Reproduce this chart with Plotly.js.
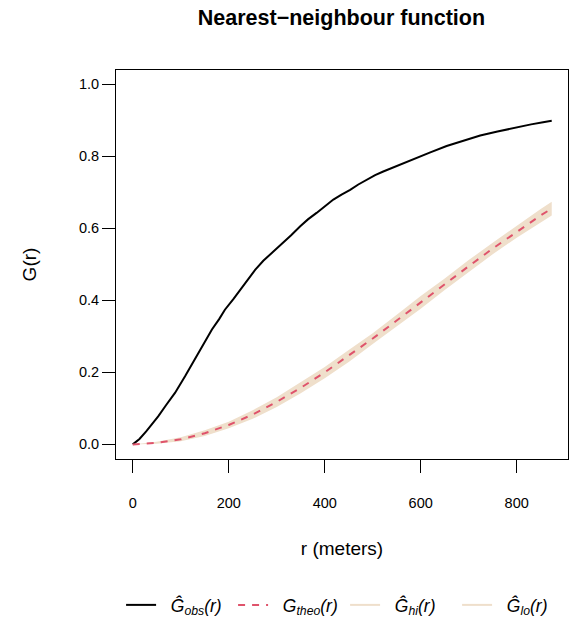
<!DOCTYPE html>
<html><head><meta charset="utf-8">
<script src="https://cdn.plot.ly/plotly-3.0.1.min.js"></script>
<style>html,body{margin:0;padding:0;background:#fff}</style>
</head><body><div id="chart" style="width:579px;height:619px"></div>
<script>
// Observed nearest-neighbour function
const rObs = [0, 14, 28, 40, 53, 70, 88, 109, 123, 133, 150, 165, 180, 192, 210, 220, 233, 244, 255, 272, 293, 307, 330, 349, 365, 383, 400, 418, 435, 453, 470, 487, 505, 522, 540, 557, 585, 620, 654, 690, 724, 760, 793, 830, 855, 873];
const gObs = [0, 0.015, 0.036, 0.055, 0.078, 0.11, 0.143, 0.189, 0.222, 0.244, 0.283, 0.319, 0.348, 0.374, 0.404, 0.422, 0.446, 0.466, 0.485, 0.51, 0.535, 0.551, 0.581, 0.606, 0.625, 0.643, 0.661, 0.68, 0.694, 0.707, 0.722, 0.735, 0.748, 0.758, 0.768, 0.777, 0.793, 0.811, 0.829, 0.845, 0.858, 0.869, 0.879, 0.889, 0.895, 0.899];
// Theoretical curve and envelope
const rEnv = [0, 50, 100, 150, 200, 250, 300, 350, 400, 450, 500, 550, 600, 650, 700, 750, 800, 850, 873];
const gTheo = [0, 0.004, 0.014, 0.031, 0.054, 0.083, 0.118, 0.157, 0.2, 0.246, 0.294, 0.344, 0.395, 0.445, 0.495, 0.544, 0.591, 0.636, 0.655];
const gHi = [0, 0.007, 0.020, 0.039, 0.063, 0.095, 0.131, 0.172, 0.215, 0.262, 0.309, 0.360, 0.412, 0.461, 0.512, 0.560, 0.608, 0.654, 0.674];
const gLo = [0, 0.002, 0.009, 0.023, 0.045, 0.071, 0.104, 0.142, 0.184, 0.229, 0.279, 0.328, 0.377, 0.429, 0.478, 0.528, 0.574, 0.618, 0.636];
const xTicks = [0, 200, 400, 600, 800];
const yTicks = [0, 0.2, 0.4, 0.6, 0.8, 1.0];
const pad = '\u00a0\u00a0';
const names = [pad + '<i>Ĝ<sub>obs</sub>(r)</i>', pad + '<i>G<sub>theo</sub>(r)</i>', pad + '<i>Ĝ<sub>hi</sub>(r)</i>', pad + '<i>Ĝ<sub>lo</sub>(r)</i>'];

const tan = '#EFDFCB';
const red = '#DF536B';
const font = 'Liberation Sans, Arial, Helvetica, sans-serif';

const traces = [
  {x: rEnv, y: gLo, type: 'scatter', mode: 'lines', line: {color: tan, width: 0}, showlegend: false, hoverinfo: 'skip'},
  {x: rEnv, y: gHi, type: 'scatter', mode: 'lines', fill: 'tonexty', fillcolor: tan, line: {color: tan, width: 0}, showlegend: false, hoverinfo: 'skip'},
  {x: rObs, y: gObs, type: 'scatter', mode: 'lines', name: names[0], line: {color: '#000', width: 2}},
  {x: rEnv, y: gTheo, type: 'scatter', mode: 'lines', name: names[1], line: {color: red, width: 2, dash: '7px,7px'}},
  {x: [null], y: [null], type: 'scatter', mode: 'lines', name: names[2], line: {color: tan, width: 2}},
  {x: [null], y: [null], type: 'scatter', mode: 'lines', name: names[3], line: {color: tan, width: 2}}
];

const layout = {
  width: 579, height: 619,
  margin: {l: 116, r: 11, t: 70, b: 160},
  paper_bgcolor: '#fff', plot_bgcolor: '#fff',
  font: {family: font, color: '#000', size: 14.5},
  title: {text: '<b>Nearest−neighbour function</b>', font: {family: font, size: 21.5, color: '#000'}, x: 0.5897, xanchor: 'center', y: 0.971, yanchor: 'middle'},
  xaxis: {
    range: [-34.9, 906.9], tickvals: xTicks, ticktext: xTicks.map(String),
    ticks: 'outside', ticklen: 13, tickwidth: 1, tickcolor: '#000',
    showline: true, mirror: true, linecolor: '#000', linewidth: 1,
    showgrid: false, zeroline: false, automargin: false,
    ticklabelstandoff: 18,
    title: {text: 'r (meters)', standoff: 31, font: {size: 19}}
  },
  yaxis: {
    range: [-0.0406, 1.04], tickvals: yTicks, tickformat: '.1f',
    ticks: 'outside', ticklen: 13, tickwidth: 1, tickcolor: '#000',
    showline: true, mirror: true, linecolor: '#000', linewidth: 1,
    showgrid: false, zeroline: false, automargin: false,
    ticklabelstandoff: 9.5,
    title: {text: 'G(r)', standoff: 37, font: {size: 19}}
  },
  legend: {orientation: 'h', traceorder: 'normal', xref: 'container', yref: 'container',
           x: 0.596, xanchor: 'center', y: 0.0226, yanchor: 'middle',
           font: {size: 17.5}, entrywidth: 67, entrywidthmode: 'pixels', itemwidth: 30, bgcolor: 'rgba(0,0,0,0)'},
  showlegend: true
};

Plotly.newPlot('chart', traces, layout, {displayModeBar: false, staticPlot: true});
</script></body></html>
